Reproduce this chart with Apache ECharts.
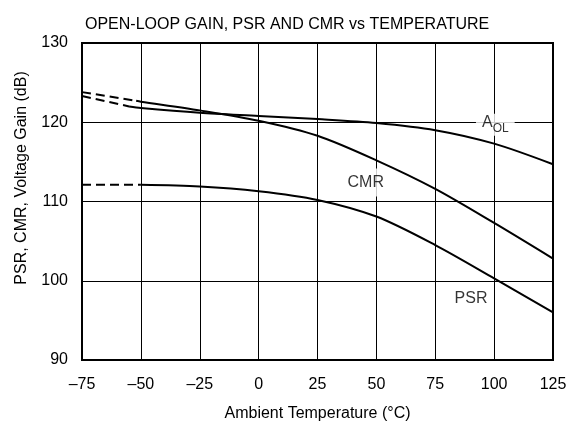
<!DOCTYPE html>
<html>
<head>
<meta charset="utf-8">
<script src="https://cdn.jsdelivr.net/npm/echarts@6/dist/echarts.min.js"></script>
<style>html,body{margin:0;padding:0;background:#fff}#c{width:585px;height:424px}</style>
</head>
<body>
<div id="c"></div>
<script>
const FONT = '"Liberation Sans", Arial, sans-serif';
const titleText = 'OPEN-LOOP GAIN, PSR AND CMR vs TEMPERATURE';
const xTitle = 'Ambient Temperature (°C)';
const yTitle = 'PSR, CMR, Voltage Gain (dB)';

// A_OL
const aolDashT = [-75, -55];
const aolDashV = [123.3, 122.0];
const aolT = [-55, -50, -25, 0, 25, 50, 75, 100, 125];
const aolV = [122.0, 121.8, 121.2, 120.8, 120.4, 119.9, 119.0, 117.3, 114.7];

// CMR
const cmrDashT = [-75, -52];
const cmrDashV = [123.8, 122.7];
const cmrT = [-52, -50, -25, 0, 25, 50, 75, 100, 125];
const cmrV = [122.7, 122.6, 121.5, 120.2, 118.3, 115.2, 111.6, 107.3, 102.8];

// PSR
const psrDashT = [-75, -50];
const psrDashV = [112.1, 112.1];
const psrT = [-50, -25, 0, 25, 50, 75, 100, 125];
const psrV = [112.1, 111.9, 111.3, 110.2, 108.1, 104.5, 100.3, 96.0];

// curve labels
const labelNames = ['AOL', 'CMR', 'PSR'];
const labelT = [100.5, 45.5, 90.2];
const labelV = [119.7, 112.4, 97.8];

const zip = (a, b) => a.map((v, i) => [v, b[i]]);

function solid(name, t, v) {
  return { name, type: 'line', smooth: 0.3, symbol: 'none', data: zip(t, v),
    lineStyle: { color: '#000', width: 2 }, z: 5 };
}
function dashed(name, t, v) {
  return { name: name + '-ext', type: 'line', smooth: false, symbol: 'none', data: zip(t, v),
    lineStyle: { color: '#000', width: 2, type: [9, 5] }, z: 5 };
}

const chart = echarts.init(document.getElementById('c'), null, { renderer: 'canvas' });
chart.setOption({
  animation: false,
  backgroundColor: '#fff',
  textStyle: { fontFamily: FONT },
  title: { text: titleText, left: 80, top: 12,
    textStyle: { fontSize: 16, fontWeight: 'normal', color: '#000', fontFamily: FONT } },
  grid: { left: 82, right: 32, top: 43, bottom: 64, show: true, borderColor: '#000', borderWidth: 2,
    backgroundColor: 'transparent', containLabel: false, outerBoundsMode: 'none' },
  xAxis: {
    type: 'value', min: -75, max: 125, interval: 25,
    axisLine: { show: false }, axisTick: { show: false },
    splitLine: { show: true, lineStyle: { color: '#000', width: 1 } },
    axisLabel: { fontSize: 16, color: '#000', margin: 17, fontFamily: FONT,
      formatter: v => String(v).replace('-', '\u2013') },
    name: xTitle, nameLocation: 'middle', nameGap: 46,
    nameTextStyle: { fontSize: 16, color: '#000', fontFamily: FONT }
  },
  yAxis: {
    type: 'value', min: 90, max: 130, interval: 10,
    axisLine: { show: false }, axisTick: { show: false },
    splitLine: { show: true, lineStyle: { color: '#000', width: 1 } },
    axisLabel: { fontSize: 16, color: '#000', margin: 14, fontFamily: FONT }
  },
  graphic: [{
    type: 'text', x: 22, y: 178, rotation: Math.PI / 2,
    style: { text: yTitle, font: '16px ' + FONT, fill: '#000', align: 'center', verticalAlign: 'middle' }
  }],
  series: [
    dashed('AOL', aolDashT, aolDashV), solid('AOL', aolT, aolV),
    dashed('CMR', cmrDashT, cmrDashV), solid('CMR', cmrT, cmrV),
    dashed('PSR', psrDashT, psrDashV), solid('PSR', psrT, psrV),
    {
      name: 'labels', type: 'scatter', symbolSize: 1, itemStyle: { color: 'rgba(0,0,0,0)' }, z: 4,
      data: labelNames.map((n, i) => ({ name: n, value: [labelT[i], labelV[i]],
        label: { padding: n === 'AOL' ? [1, 6] : [6, 5] } })),
      label: {
        show: true, position: 'inside', color: '#000', fontSize: 16, fontFamily: FONT,
        backgroundColor: '#fff',
        formatter: p => p.name === 'AOL' ? '{a|A}{s|OL}' : p.name,
        rich: {
          a: { fontSize: 16, lineHeight: 20, verticalAlign: 'top', color: '#000', fontFamily: FONT },
          s: { fontSize: 12, lineHeight: 20, verticalAlign: 'bottom', color: '#000', fontFamily: FONT }
        }
      },
      emphasis: { disabled: true }
    }
  ]
});
</script>
</body>
</html>
